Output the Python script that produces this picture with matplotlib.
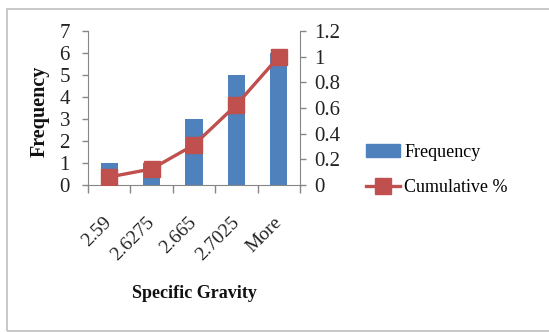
import matplotlib
matplotlib.use("Agg")
import matplotlib.pyplot as plt
from matplotlib.patches import Rectangle
from matplotlib.lines import Line2D
from matplotlib.patches import Patch

bins = ["2.59", "2.6275", "2.665", "2.7025", "More"]
frequency = [1, 1, 3, 5, 6]
cumulative = [0.0625, 0.125, 0.3125, 0.625, 1.0]
left_ticks = [0, 1, 2, 3, 4, 5, 6, 7]
right_ticks = [0, 0.2, 0.4, 0.6, 0.8, 1, 1.2]
right_labels = ["0", "0.2", "0.4", "0.6", "0.8", "1", "1.2"]

blue = "#4F81BD"
red = "#C0504D"
axis_gray = "#868686"

plt.rcParams["font.family"] = ["Liberation Serif", "DejaVu Serif"]

fig = plt.figure(figsize=(5.49, 3.32), dpi=100)
fig.patches.append(Rectangle((7 / 549, 1.5 / 332), 1.2, 321.5 / 332, transform=fig.transFigure,
                             fill=False, edgecolor="#BFBFBF", linewidth=1.2, clip_on=False))

ax = fig.add_axes([88 / 549, 1 - 185 / 332, 212 / 549, 154 / 332])
x = list(range(len(bins)))
ax.bar(x, frequency, width=0.41, color=blue, zorder=2)
ax.set_xlim(-0.5, len(bins) - 0.5)
ax.set_ylim(0, 7)
ax.set_yticks(left_ticks)
ax.set_xticks(x)
ax.set_xticklabels(bins, rotation=45, ha="right", rotation_mode="anchor", va="center")
ax.set_xticks([i - 0.5 for i in range(len(bins) + 1)], minor=True)
ax.tick_params(axis="x", which="major", length=0, pad=25, labelsize=14, colors="#222222")
ax.tick_params(axis="x", which="minor", length=6, width=1, color=axis_gray)
ax.tick_params(axis="y", length=4, width=1, color=axis_gray, pad=9, labelsize=15, labelcolor="#222222")
for s in ["top", "right"]:
    ax.spines[s].set_visible(False)
for s in ["left", "bottom"]:
    ax.spines[s].set_color(axis_gray)

ax2 = ax.twinx()
ax2.plot(x, cumulative, color=red, linewidth=2.4, marker="s", markersize=11,
         markerfacecolor=red, markeredgecolor=red, zorder=3)
ax2.set_ylim(0, 1.2)
ax2.set_yticks(right_ticks)
ax2.set_yticklabels(right_labels)
ax2.tick_params(axis="y", length=4, width=1, color=axis_gray, pad=6, labelsize=15, labelcolor="#222222")
for s in ["top", "left", "bottom"]:
    ax2.spines[s].set_visible(False)
ax2.spines["right"].set_color(axis_gray)

fig.text(40 / 549, 1 - 111 / 332, "Frequency", rotation=90, ha="center", va="center",
         fontsize=14.5, fontweight="bold", color="#111111")
fig.text(194 / 549, 1 - 293 / 332, "Specific Gravity", ha="center", va="center",
         fontsize=13, fontweight="bold", color="#111111")

handles = [Patch(facecolor=blue, edgecolor=blue),
           Line2D([], [], color=red, linewidth=2.4, marker="s", markersize=11)]
fig.legend(handles, ["Frequency", "Cumulative %"], loc="center left",
           bbox_to_anchor=(352 / 549, 1 - 170 / 332), frameon=False, fontsize=13,
           handlelength=1.85, handletextpad=0.25, labelspacing=1.0, borderpad=0.3)

fig.savefig("out.png", dpi=100)
